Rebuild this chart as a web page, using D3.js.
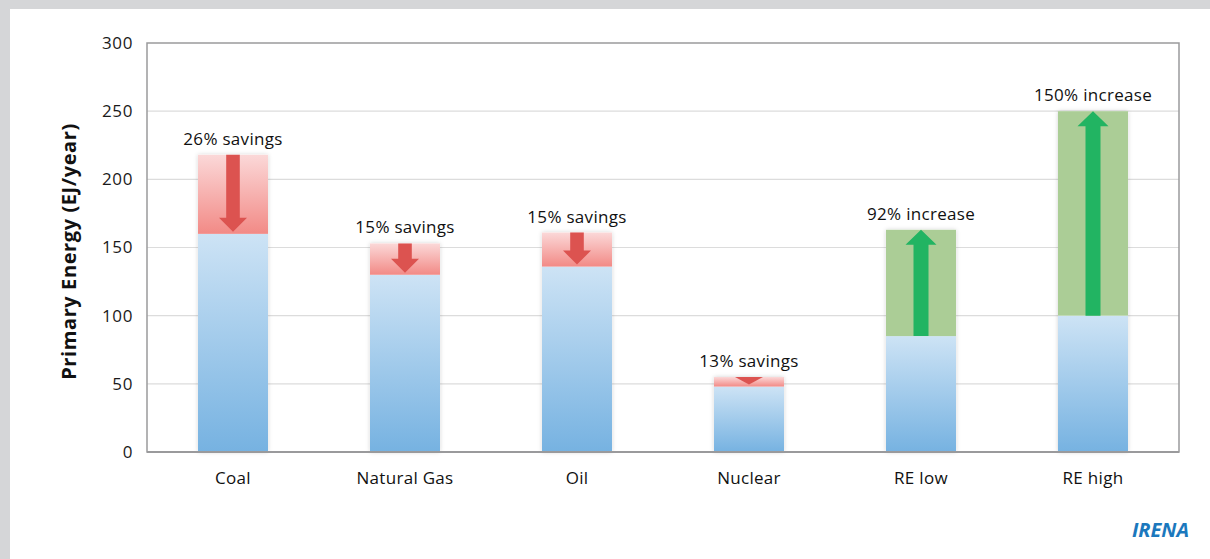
<!DOCTYPE html>
<html>
<head>
<meta charset="utf-8">
<script src="https://cdn.jsdelivr.net/npm/d3@7"></script>
<style>
  html, body { margin: 0; padding: 0; background: #d5d6d8; }
  svg { display: block; font-family: "Open Sans", sans-serif; }
</style>
</head>
<body>
<svg id="chart"></svg>
<script>
// ================= DATA =================
const categories = ['Coal', 'Natural Gas', 'Oil', 'Nuclear', 'RE low', 'RE high'];
const baseValues = [160, 130, 136, 48, 85, 100];      // blue part
const totalValues = [218, 153, 161, 55, 163, 250];    // top of the stacked bar
const changeLabels = ['26% savings', '15% savings', '15% savings', '13% savings', '92% increase', '150% increase'];
const yTicks = [0, 50, 100, 150, 200, 250, 300];

// ================= SETUP =================
const width = 1210, height = 559;
const margin = {top: 43, right: 31, bottom: 107, left: 147};

const svg = d3.select('#chart').attr('width', width).attr('height', height);

// white panel over grey page
svg.append('rect').attr('x', 10).attr('y', 9).attr('width', width - 10).attr('height', height - 9).attr('fill', '#fff');

const defs = svg.append('defs');
const blue = defs.append('linearGradient').attr('id', 'blueGrad').attr('x1', 0).attr('y1', 0).attr('x2', 0).attr('y2', 1);
blue.append('stop').attr('offset', '0%').attr('stop-color', '#cde3f5');
blue.append('stop').attr('offset', '100%').attr('stop-color', '#76b2e1');
const pink = defs.append('linearGradient').attr('id', 'pinkGrad').attr('x1', 0).attr('y1', 0).attr('x2', 0).attr('y2', 1);
pink.append('stop').attr('offset', '0%').attr('stop-color', '#fbd8d8');
pink.append('stop').attr('offset', '100%').attr('stop-color', '#f28a86');
const shadow = defs.append('filter').attr('id', 'shadow').attr('x', '-20%').attr('y', '-10%').attr('width', '140%').attr('height', '120%');
shadow.append('feDropShadow').attr('dx', 0).attr('dy', 0).attr('stdDeviation', 2).attr('flood-color', '#000').attr('flood-opacity', 0.18);

const x = d3.scaleBand().domain(categories)
  .range([margin.left, width - margin.right]).paddingInner(0.593).paddingOuter(0.2965);
const y = d3.scaleLinear().domain([0, 300]).range([height - margin.bottom, margin.top]);

// ================= GRID =================
svg.append('g').selectAll('line').data(yTicks.slice(1, -1)).enter().append('line')
  .attr('x1', margin.left).attr('x2', width - margin.right)
  .attr('y1', d => y(d)).attr('y2', d => y(d))
  .attr('stroke', '#dcdcdc').attr('stroke-width', 1.2);

// y tick labels
svg.append('g').selectAll('text').data(yTicks).enter().append('text')
  .attr('x', 133).attr('y', d => y(d)).attr('dy', '0.35em')
  .attr('text-anchor', 'end').attr('font-size', 17).attr('letter-spacing', 0.6).attr('fill', '#1a1a1a')
  .text(d => d);

// y axis title
svg.append('text')
  .attr('transform', 'translate(76,' + ((y(0) + y(300)) / 2 + 4) + ') rotate(-90)')
  .attr('text-anchor', 'middle').attr('font-size', 20).attr('letter-spacing', 0.6)
  .attr('font-weight', 'bold').attr('fill', '#111')
  .text('Primary Energy (EJ/year)');

// ================= BARS =================
const rows = categories.map((c, i) => ({
  cat: c, base: baseValues[i], total: totalValues[i], label: changeLabels[i],
  up: totalValues[i] > baseValues[i] && changeLabels[i].indexOf('increase') >= 0
}));

const bars = svg.append('g').selectAll('g').data(rows).enter().append('g');

bars.append('rect')
  .attr('x', d => x(d.cat)).attr('width', x.bandwidth())
  .attr('y', d => y(d.total)).attr('height', d => y(0) - y(d.total))
  .attr('fill', '#fff').attr('filter', 'url(#shadow)');

bars.append('rect')
  .attr('x', d => x(d.cat)).attr('width', x.bandwidth())
  .attr('y', d => y(d.base)).attr('height', d => y(0) - y(d.base))
  .attr('fill', 'url(#blueGrad)');

bars.append('rect')
  .attr('x', d => x(d.cat)).attr('width', x.bandwidth())
  .attr('y', d => y(d.total)).attr('height', d => y(d.base) - y(d.total))
  .attr('fill', d => d.up ? '#abcd96' : 'url(#pinkGrad)');

// arrows
bars.append('path')
  .attr('fill', d => d.up ? '#22b462' : '#dc5350')
  .attr('d', d => {
    const cx = x(d.cat) + x.bandwidth() / 2;
    const top = y(d.total), bot = y(d.base);
    if (d.up) {
      const sw = 7.5, hw = 15.5, hh = Math.min(15, bot - top);
      return 'M' + cx + ',' + top + 'L' + (cx + hw) + ',' + (top + hh) + 'L' + (cx + sw) + ',' + (top + hh) +
        'L' + (cx + sw) + ',' + bot + 'L' + (cx - sw) + ',' + bot + 'L' + (cx - sw) + ',' + (top + hh) +
        'L' + (cx - hw) + ',' + (top + hh) + 'Z';
    } else {
      const tip = bot - 2;
      const sw = 6.8, hw = 14, hh = Math.min(14, tip - top);
      return 'M' + cx + ',' + tip + 'L' + (cx + hw) + ',' + (tip - hh) + 'L' + (cx + sw) + ',' + (tip - hh) +
        'L' + (cx + sw) + ',' + top + 'L' + (cx - sw) + ',' + top + 'L' + (cx - sw) + ',' + (tip - hh) +
        'L' + (cx - hw) + ',' + (tip - hh) + 'Z';
    }
  });

// change labels
bars.append('text')
  .attr('x', d => x(d.cat) + x.bandwidth() / 2).attr('y', d => y(d.total) - 10)
  .attr('text-anchor', 'middle').attr('font-size', 17).attr('letter-spacing', 0.3).attr('fill', '#111')
  .text(d => d.label);

// ================= FRAME & X AXIS =================
svg.append('rect')
  .attr('x', margin.left).attr('y', margin.top)
  .attr('width', width - margin.right - margin.left).attr('height', y(0) - margin.top)
  .attr('fill', 'none').attr('stroke', '#9a9a9c').attr('stroke-width', 1.5);
svg.append('line')
  .attr('x1', margin.left).attr('x2', width - margin.right).attr('y1', y(0)).attr('y2', y(0))
  .attr('stroke', '#9a9a9c').attr('stroke-width', 2.2);

svg.append('g').selectAll('text').data(categories).enter().append('text')
  .attr('x', d => x(d) + x.bandwidth() / 2).attr('y', 484)
  .attr('text-anchor', 'middle').attr('font-size', 17).attr('letter-spacing', 0.3).attr('fill', '#111')
  .text(d => d);

// source mark
svg.append('text')
  .attr('x', 1189).attr('y', 537).attr('text-anchor', 'end')
  .attr('font-size', 20).attr('font-weight', 'bold').attr('font-style', 'italic').attr('fill', '#1b78bd')
  .text('IRENA');
</script>
</body>
</html>
